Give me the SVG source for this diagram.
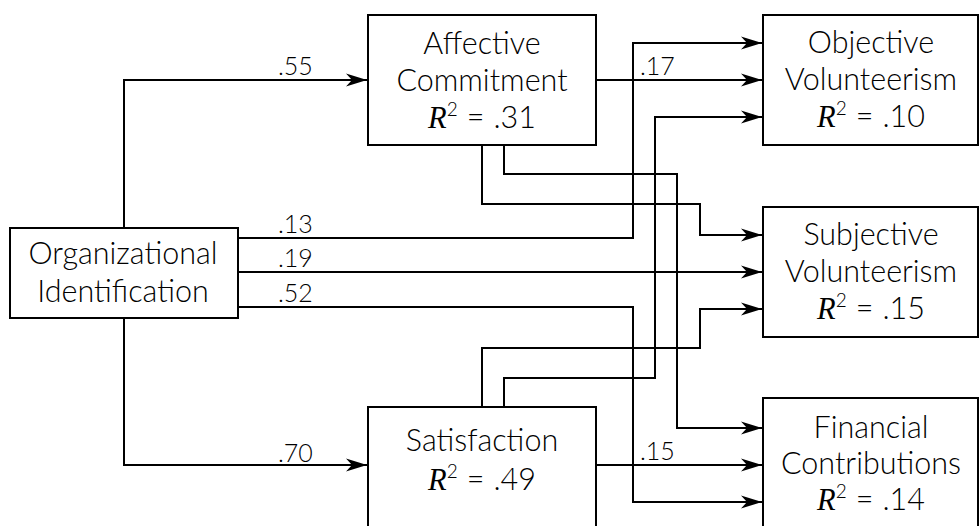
<svg xmlns="http://www.w3.org/2000/svg" width="979" height="526" viewBox="0 0 979 526">
<style>
.box{fill:#fff;stroke:#000;stroke-width:2}
.t{font-family:Lato,"Open Sans","DejaVu Sans",sans-serif;font-weight:300;font-size:30.5px;fill:#000;text-anchor:middle}
.l{font-family:Lato,"Open Sans","DejaVu Sans",sans-serif;font-weight:300;font-size:25px;fill:#000}
.r{font-family:"Liberation Serif",serif;font-style:italic;font-weight:normal}
.s{font-size:19px}
.c{fill:none;stroke:#000;stroke-width:2}
</style>
<defs>
<marker id="ah" viewBox="-21 -7 22 14" refX="0" refY="0" markerWidth="22" markerHeight="14" markerUnits="userSpaceOnUse" orient="auto">
<path d="M0,0 L-21,-6.5 L-15,0 L-21,6.5 Z" fill="#000"/>
</marker>
</defs>
<rect width="979" height="526" fill="#fff"/>
<g id="connectors">
<path class="c" marker-end="url(#ah)" d="M124,228 V80 H367"/>
<path class="c" marker-end="url(#ah)" d="M124,318 V465 H367"/>
<path class="c" marker-end="url(#ah)" d="M238,238 H633 V43 H762"/>
<path class="c" marker-end="url(#ah)" d="M238,272 H762"/>
<path class="c" marker-end="url(#ah)" d="M238,307 H633 V502 H762"/>
<path class="c" marker-end="url(#ah)" d="M596,80 H762"/>
<path class="c" marker-end="url(#ah)" d="M482,145 V204 H700 V235 H762"/>
<path class="c" marker-end="url(#ah)" d="M504,145 V174 H677 V428 H762"/>
<path class="c" marker-end="url(#ah)" d="M482,407 V348 H700 V309 H762"/>
<path class="c" marker-end="url(#ah)" d="M504,407 V378 H655 V117 H762"/>
<path class="c" marker-end="url(#ah)" d="M596,465 H762"/>
<text class="l" x="278" y="75">.55</text>
<text class="l" x="278" y="462">.70</text>
<text class="l" x="278" y="233">.13</text>
<text class="l" x="278" y="267">.19</text>
<text class="l" x="278" y="302">.52</text>
<text class="l" x="640" y="75">.17</text>
<text class="l" x="640" y="460">.15</text>
</g>
<g id="org">
<rect class="box" x="10" y="228" width="228" height="90"/>
<text class="t" x="123" y="264">Organizational</text>
<text class="t" x="123" y="302">Identification</text>
</g>
<g id="affective">
<rect class="box" x="368" y="15" width="228" height="130"/>
<text class="t" x="482" y="54">Affective</text>
<text class="t" x="482" y="91">Commitment</text>
<text class="t" x="482" y="128"><tspan class="r">R</tspan><tspan class="s" dy="-12">2</tspan><tspan dy="12" dx="9">=</tspan><tspan dx="9">.31</tspan></text>
</g>
<g id="satisfaction">
<rect class="box" x="368" y="407" width="228" height="130"/>
<text class="t" x="482" y="451">Satisfaction</text>
<text class="t" x="482" y="490"><tspan class="r">R</tspan><tspan class="s" dy="-12">2</tspan><tspan dy="12" dx="9">=</tspan><tspan dx="9">.49</tspan></text>
</g>
<g id="objective">
<rect class="box" x="763" y="15" width="215" height="130"/>
<text class="t" x="871" y="53">Objective</text>
<text class="t" x="871" y="90">Volunteerism</text>
<text class="t" x="871" y="127"><tspan class="r">R</tspan><tspan class="s" dy="-12">2</tspan><tspan dy="12" dx="9">=</tspan><tspan dx="9">.10</tspan></text>
</g>
<g id="subjective">
<rect class="box" x="763" y="207" width="215" height="130"/>
<text class="t" x="871" y="245">Subjective</text>
<text class="t" x="871" y="282">Volunteerism</text>
<text class="t" x="871" y="319"><tspan class="r">R</tspan><tspan class="s" dy="-12">2</tspan><tspan dy="12" dx="9">=</tspan><tspan dx="9">.15</tspan></text>
</g>
<g id="financial">
<rect class="box" x="763" y="398" width="215" height="140"/>
<text class="t" x="871" y="438">Financial</text>
<text class="t" x="871" y="474">Contributions</text>
<text class="t" x="871" y="510"><tspan class="r">R</tspan><tspan class="s" dy="-12">2</tspan><tspan dy="12" dx="9">=</tspan><tspan dx="9">.14</tspan></text>
</g>
</svg>
